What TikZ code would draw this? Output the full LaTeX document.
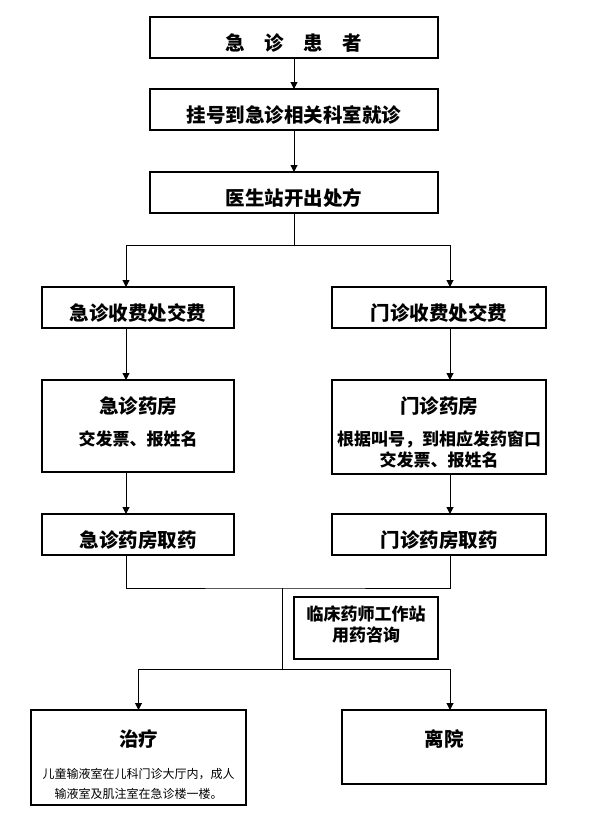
\documentclass[tikz,border=0pt]{standalone}
\usepackage{fontspec}
\setmainfont{Noto Sans CJK SC}
\usetikzlibrary{arrows.meta,positioning}
\tikzset{
  flowbox/.style={rectangle, draw=black, line width=1.2pt, anchor=north,
                  inner xsep=0pt, inner ysep=0pt, outer sep=0pt, align=center,
                  minimum width=#1, text height=33pt, text depth=8pt,
                  font=\fontsize{19.5pt}{23pt}\selectfont\bfseries},
  infobox/.style={flowbox=#1, font=\fontsize{17pt}{21pt}\selectfont\bfseries},
  arr/.style={-{Triangle[length=7pt,width=7pt]}, line width=1pt, draw=black},
  link/.style={line width=1pt, draw=black},
}
\newcommand{\boxtitle}[1]{{\fontsize{19.5pt}{23pt}\selectfont #1}}

\begin{document}
\begin{tikzpicture}[x=1pt, y=-1pt]
  \useasboundingbox (0,0) rectangle (596,828);
  % main column
  \node[flowbox=288pt] (patient) at (294,17) {急\hspace{1em}诊\hspace{1em}患\hspace{1em}者};
  \node[flowbox=288pt, below=31pt of patient] (register) {挂号到急诊相关科室就诊};
  \node[flowbox=288pt, below=42pt of register] (rx) {医生站开出处方};
  % emergency side
  \node[flowbox=192pt] (feeE) at (138,287) {急诊收费处交费};
  \node[infobox=192pt, below=52pt of feeE, text height=65pt, text depth=27pt] (pharmE)
    {\boxtitle{急诊药房}\\[10.3pt]交发票、报姓名};
  \node[flowbox=192pt, below=42pt of pharmE] (takeE) {急诊药房取药};
  % outpatient side
  \node[flowbox=214pt] (feeO) at (439,287) {门诊收费处交费};
  \node[infobox=214pt, below=52pt of feeO, text height=86pt, text depth=8pt] (pharmO)
    {\boxtitle{门诊药房}\\[10.3pt]根据叫号，到相应发药窗口\\交发票、报姓名};
  \node[flowbox=214pt, below=40pt of pharmO] (takeO) {门诊药房取药};
  % consultation and exits
  \node[infobox=144pt, text height=44.8pt, text depth=17.2pt] (consult) at (366,597)
    {临床药师工作站\\用药咨询};
  \node[flowbox=215pt, text height=88pt, text depth=7pt,
        font=\fontsize{12pt}{20pt}\selectfont] (treat) at (138.5,710)
    {{\fontsize{19.5pt}{23pt}\selectfont\bfseries 治疗}\\[12pt]儿童输液室在儿科门诊大厅内，成人\\输液室及肌注室在急诊楼一楼。};
  \node[flowbox=204pt, text height=36pt, text depth=38pt] (leave) at (444,710) {离院};

  \coordinate (split) at (294,245);
  \coordinate (merge) at (282,588);
  \coordinate (fork)  at (282,669);

  \draw[arr] (patient) -- (register);
  \draw[arr] (register) -- (rx);
  \draw[link] (rx.south) -- (split);
  \draw[arr] (split) -| ([xshift=-12pt]feeE.north);
  \draw[arr] (split) -| ([xshift=11pt]feeO.north);
  \draw[arr] ([xshift=-12pt]feeE.south) -- ([xshift=-12pt]pharmE.north);
  \draw[arr] ([xshift=-12pt]pharmE.south) -- ([xshift=-12pt]takeE.north);
  \draw[arr] ([xshift=11pt]feeO.south) -- ([xshift=11pt]pharmO.north);
  \draw[arr] ([xshift=11pt]pharmO.south) -- ([xshift=11pt]takeO.north);
  \draw[link] ([xshift=-12pt]takeE.south) |- (merge) -| ([xshift=11pt]takeO.south);
  \draw[link] (merge) -- (fork);
  \draw[arr] (fork) -| (treat.north);
  \draw[arr] (fork) -| ([xshift=6pt]leave.north);
\end{tikzpicture}
\end{document}
